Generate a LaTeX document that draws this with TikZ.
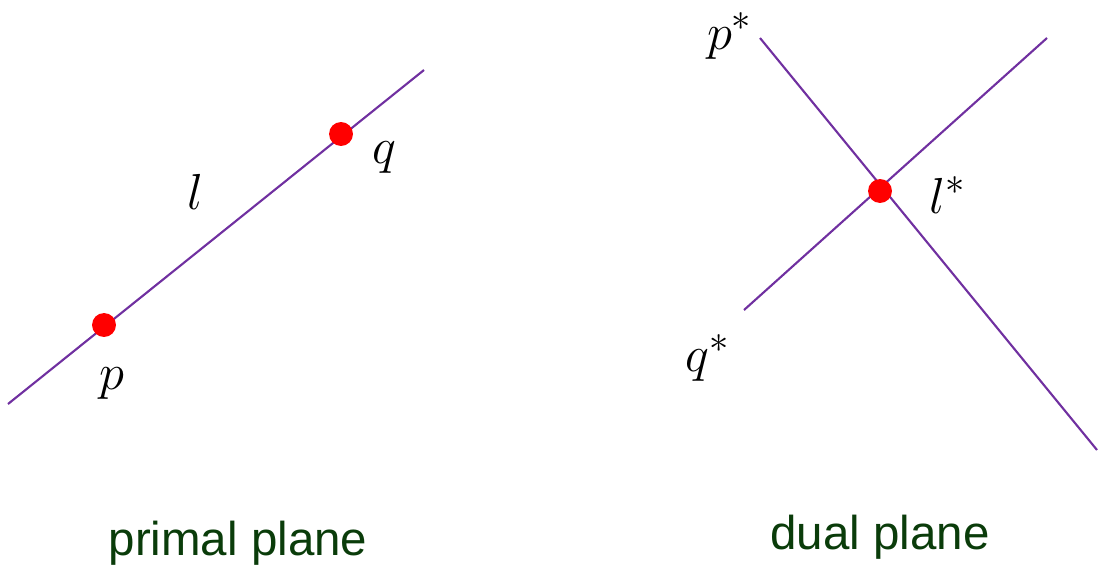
\documentclass[tikz,border=0pt]{standalone}
\usepackage{fontspec}
\newfontfamily\labelfont{Liberation Sans}
\definecolor{linepurple}{RGB}{112,48,160}
\definecolor{textgreen}{RGB}{10,60,10}
\begin{document}
\begin{tikzpicture}[x=0.01cm,y=-0.01cm,
  ln/.style={draw=linepurple,line width=0.6pt},
  dot/.style={circle,fill=red,inner sep=0pt,minimum size=6.8pt},
  lbl/.style={inner sep=0pt,font=\fontsize{15.5}{18}\selectfont},
  title/.style={inner sep=0pt,text=textgreen,font=\labelfont\fontsize{13.5}{16}\selectfont}]
\useasboundingbox (0,0) rectangle (1098,567);
% primal plane
\coordinate (a1) at (8,404);
\coordinate (a2) at (424,70);
\draw[ln] (a1) -- (a2);
\node[dot] (p) at (104,325) {};
\node[dot] (q) at (341,134) {};
\node[lbl] (pl) at (112,384) {$p$};
\node[lbl] (ql) at (384,158) {$q$};
\node[lbl] (ll) at (195,192) {$l$};
\node[title] (t1) at (238,543) {primal plane};
% dual plane
\coordinate (b1) at (760,38);
\coordinate (b2) at (1097,450);
\coordinate (c1) at (744,310);
\coordinate (c2) at (1047,38);
\draw[ln] (b1) -- (b2);
\draw[ln] (c1) -- (c2);
\node[dot] (lstar) at (880,191) {};
\node[lbl] (psl) at (730,36) {$p^*$};
\node[lbl] (qsl) at (708,358) {$q^*$};
\node[lbl] (lsl) at (948,195) {$l^*$};
\node[title] (t2) at (880,537) {dual plane};
\end{tikzpicture}
\end{document}
